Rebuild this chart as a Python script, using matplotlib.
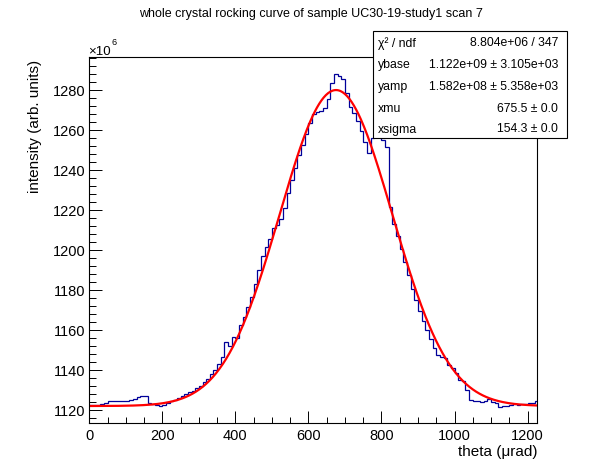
import numpy as np
import matplotlib.pyplot as plt
from matplotlib.patches import Rectangle
from matplotlib.ticker import MultipleLocator

plt.rcParams['font.family'] = ['Liberation Sans', 'DejaVu Sans']

# histogram contents (units of 1e6), 10 urad bins starting at 0
bin_width = 10
counts = [
    1122.3, 1122.6, 1122.7, 1123.2, 1123.3, 1124.4, 1124.5, 1124.7, 1124.4, 1124.6,
    1124.4, 1124.8, 1125.3, 1126.5, 1127.0, 1127.0, 1123.5, 1122.8, 1122.5, 1122.0,
    1122.6, 1123.6, 1124.5, 1125.2, 1126.0, 1126.8, 1128.0, 1129.0, 1129.6, 1130.8,
    1132.0, 1133.8, 1135.5, 1137.8, 1140.2, 1143.0, 1146.5, 1154.3, 1152.0, 1156.8,
    1156.0, 1162.5, 1166.4, 1171.4, 1176.8, 1183.0, 1189.9, 1197.0, 1201.8, 1205.8,
    1210.9, 1212.6, 1215.5, 1221.0, 1228.6, 1235.1, 1241.4, 1247.5, 1252.7, 1258.1,
    1263.5, 1268.0, 1269.4, 1269.9, 1271.1, 1275.8, 1283.5, 1288.3, 1287.0, 1285.5,
    1278.5, 1271.5, 1268.5, 1264.5, 1259.5, 1254.0, 1248.5, 1256.0, 1262.0, 1259.0,
    1255.0, 1251.5, 1221.5, 1213.0, 1207.0, 1200.5, 1194.0, 1187.5, 1180.5, 1175.0,
    1169.8, 1164.8, 1160.0, 1155.5, 1151.0, 1147.5, 1146.5, 1146.0, 1142.5, 1141.0,
    1138.5, 1135.0, 1134.5, 1130.0, 1125.0, 1124.5, 1124.3, 1124.0, 1124.5, 1125.5,
    1124.2, 1123.5, 1121.5, 1122.0, 1122.0, 1122.5, 1122.8, 1122.6, 1122.8, 1122.9,
    1123.3, 1123.5, 1124.5,
]

# fit result shown in the stats box
ybase = 1.122e9
yamp = 1.582e8
xmu = 675.5
xsigma = 154.3
stats_rows = [
    ("χ² / ndf", "8.804e+06 / 347"),
    ("ybase", "1.122e+09 ± 3.105e+03"),
    ("yamp", "1.582e+08 ± 5.358e+03"),
    ("xmu", "675.5 ± 0.0"),
    ("xsigma", "154.3 ± 0.0"),
]

W, H = 596, 472
fig = plt.figure(figsize=(W / 100, H / 100), dpi=100)
ax = fig.add_axes([89.3 / W, 1 - 423 / H, (536.7 - 89.3) / W, (423 - 56.5) / H])

edges = np.arange(len(counts) + 1) * bin_width
ax.stairs(counts, edges, color='#000099', lw=0.9, baseline=None)

tt = np.linspace(0, 1225, 400)
fit = (ybase + yamp * np.exp(-0.5 * ((tt - xmu) / xsigma) ** 2)) / 1e6
ax.plot(tt, fit, color='#ff0000', lw=1.6)

ax.set_xlim(0, 1225)
ax.set_ylim(1113.5, 1297)
ax.xaxis.set_major_locator(MultipleLocator(200))
ax.xaxis.set_minor_locator(MultipleLocator(50))
ax.yaxis.set_major_locator(MultipleLocator(20))
ax.yaxis.set_minor_locator(MultipleLocator(4))
ax.tick_params(which='both', direction='in', top=False, right=False, labelsize=10.5, width=0.7)
ax.tick_params(axis='y', which='major', length=9.5, pad=3)
ax.tick_params(axis='y', which='minor', length=4.8)
ax.tick_params(axis='x', which='major', length=9, pad=4)
ax.tick_params(axis='x', which='minor', length=4.5)
for s in ax.spines.values():
    s.set_linewidth(0.8)

fig.text(311 / W, 1 - 14 / H, "whole crystal rocking curve of sample UC30-19-study1 scan 7",
         ha='center', va='center', fontsize=9)
fig.text(537 / W, 1 - 452 / H, "theta (μrad)", ha='right', va='center', fontsize=11)
fig.text(35 / W, 1 - 60 / H, "intensity (arb. units)", rotation=90, ha='center', va='top', fontsize=11)
fig.text(88 / W, 1 - 55 / H, "×10", ha='left', va='baseline', fontsize=9.5)
fig.text(111.5 / W, 1 - 45 / H, "6", ha='left', va='baseline', fontsize=6.5)

# stats box
bx0, bx1, by0, by1 = 373, 567, 31, 138
fig.add_artist(Rectangle((bx0 / W, 1 - by1 / H), (bx1 - bx0) / W, (by1 - by0) / H,
                         transform=fig.transFigure, facecolor='white', edgecolor='black', lw=0.8))
row_y = [43.5, 65, 87, 108.5, 129.5]
for (name, val), y in zip(stats_rows, row_y):
    fig.text(378 / W, 1 - y / H, name, ha='left', va='center', fontsize=8.8)
    fig.text(558 / W, 1 - y / H, val, ha='right', va='center', fontsize=8.8)

fig.savefig("out.png", dpi=100)
